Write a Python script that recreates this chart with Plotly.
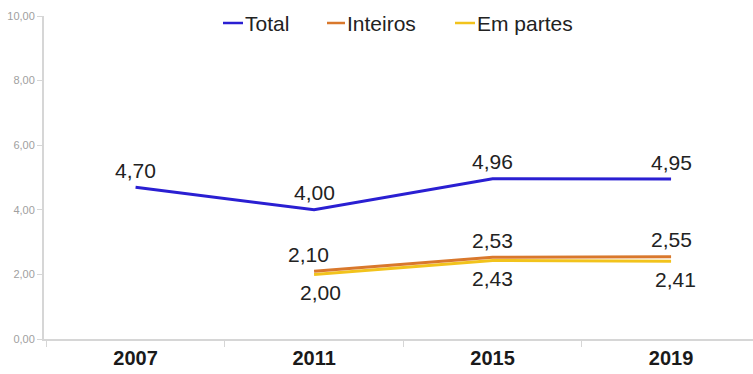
import plotly.graph_objects as go

years = ["2007", "2011", "2015", "2019"]
total = [4.70, 4.00, 4.96, 4.95]
inteiros = [None, 2.10, 2.53, 2.55]
em_partes = [None, 2.00, 2.43, 2.41]
y_ticks = [0, 2, 4, 6, 8, 10]

series = [
    # name, values, colour, label side
    ("Total", total, "#2a1fd2", "above"),
    ("Inteiros", inteiros, "#d9782c", "above"),
    ("Em partes", em_partes, "#f2c31c", "below"),
]


def fmt(v):
    return "" if v is None else f"{v:.2f}".replace(".", ",")


# plot area in pixels (for the hand-drawn legend)
L, R, T, B = 44, 753, 16, 339
W, H = R - L, B - T


def px(xp):
    return (xp - L) / W


def py(yp):
    return (B - yp) / H


fig = go.Figure()
draw_order = [series[2], series[1], series[0]]
for name, vals, col, side in draw_order:
    fig.add_trace(go.Scatter(
        x=years, y=vals, name=name, mode="lines",
        line=dict(color=col, width=3), showlegend=False,
        hoverinfo="x+y",
    ))

label_font = dict(size=21, color="#222222", family="Liberation Sans")
xshift_above = {"2011": -6}
xshift_below = {"2011": 6, "2019": 4}
for name, vals, col, side in series:
    for i, (yr, v) in enumerate(zip(years, vals)):
        if v is None:
            continue
        if side == "above":
            ys = 17
            xs = xshift_above.get(yr, 0) if name != "Total" else 0
        else:
            ys, xs = -18, xshift_below.get(yr, 0)
        fig.add_annotation(
            x=i, y=v, text=fmt(v), showarrow=False,
            xanchor="center", yanchor="middle", yshift=ys, xshift=xs,
            font=label_font,
        )

# legend drawn by hand: short line + label
legend_items = [("Total", "#2a1fd2", 223, 243), ("Inteiros", "#d9782c", 327, 345),
                ("Em partes", "#f2c31c", 455, 475)]
leg_y = 23
for name, col, x0, x1 in legend_items:
    fig.add_shape(type="line", xref="paper", yref="paper",
                  x0=px(x0), x1=px(x1), y0=py(leg_y), y1=py(leg_y),
                  line=dict(color=col, width=2.5))
    fig.add_annotation(xref="paper", yref="paper", x=px(x1 + 1), y=py(leg_y + 1),
                       text=name, showarrow=False, xanchor="left", yanchor="middle",
                       font=dict(size=21, color="#222222", family="Liberation Sans"),
                       borderpad=0)

fig.update_layout(
    width=753, height=374,
    margin=dict(l=L, r=753 - R, t=T, b=374 - B),
    paper_bgcolor="white", plot_bgcolor="white",
    font=dict(family="Liberation Sans", color="#222222"),
    showlegend=False,
    xaxis=dict(
        type="category", range=[-0.513, 3.459],
        showline=True, linecolor="#d6d6d6", linewidth=2,
        ticks="outside", tickson="boundaries", ticklen=6, tickcolor="#d6d6d6",
        showgrid=False, zeroline=False,
        tickvals=years, ticktext=[f"<b>{y}</b>" for y in years],
        tickfont=dict(size=20, color="#1a1a1a", family="Liberation Sans"),
    ),
    yaxis=dict(
        range=[0, 10], tickvals=y_ticks,
        ticktext=[fmt(float(v)) for v in y_ticks],
        showline=True, linecolor="#d6d6d6", linewidth=2,
        ticks="outside", ticklen=5, tickcolor="#d6d6d6",
        showgrid=False, zeroline=False,
        tickfont=dict(size=11, color="#a0a0a0", family="Liberation Sans"),
    ),
)

fig.write_html("out.html")
